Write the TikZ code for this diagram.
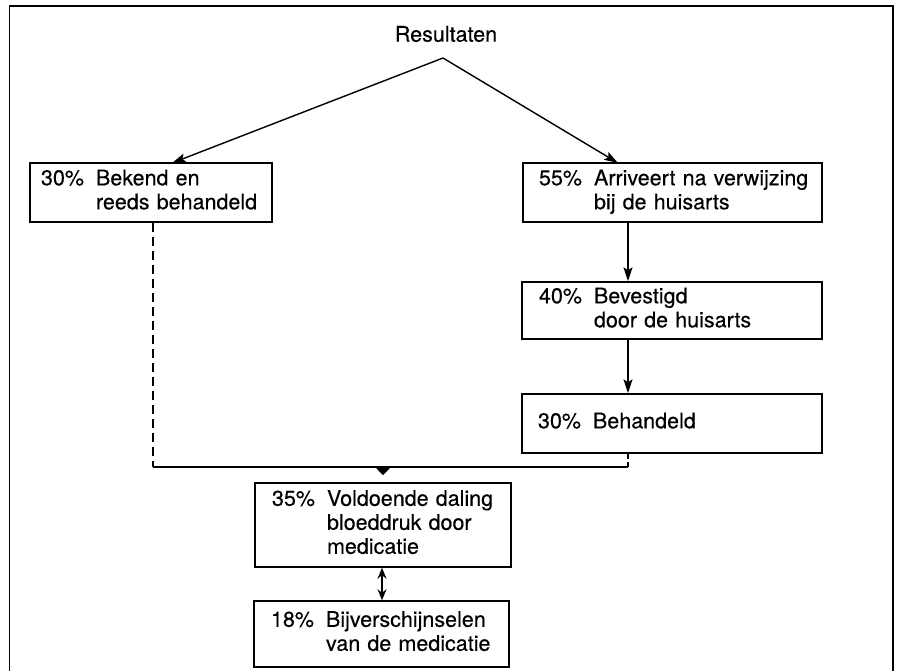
\documentclass[tikz,border=0pt]{standalone}
\usepackage{fontspec}
\setmainfont{TeX Gyre Heros}[FakeBold=0.3]
\usetikzlibrary{arrows.meta,calc}
\newcommand\pctxt[2]{\begin{tabular}{@{}l@{\hspace{12pt}}l@{}}#1 & #2\end{tabular}}
\begin{document}
\begin{tikzpicture}[x=1pt,y=-1pt,
  every node/.style={font=\fontsize{21.5}{24}\selectfont},
  boxnode/.style={draw,line width=1.5pt,align=left,inner ysep=0pt},
  arr/.style={line width=1.4pt,-{Stealth[length=14pt,width=9pt,inset=3pt]}},
  conn/.style={line width=1.4pt}]
\useasboundingbox (0,0) rectangle (897,671);
% frame
\draw[line width=1.8pt] (9.5,671) -- (9.5,6) -- (893,6) -- (893,671);
% title
\node[inner sep=0pt] (res) at (446,34) {Resultaten};
\coordinate (apex) at (443,58);
% boxes
\node[boxnode,minimum width=242pt,minimum height=59pt,text width=220pt,inner xsep=11pt] (b30) at (151,192.5)
  {\pctxt{30\%}{Bekend en\\ & reeds behandeld}};
\node[boxnode,minimum width=299pt,minimum height=59pt,text width=267pt,inner xsep=16pt] (b55) at (672.5,192.5)
  {\pctxt{55\%}{Arriveert na verwijzing\\ & bij de huisarts}};
\node[boxnode,minimum width=300pt,minimum height=57pt,text width=266pt,inner xsep=17pt] (b40) at (672,310.5)
  {\pctxt{40\%}{Bevestigd\\ & door de huisarts}};
\node[boxnode,minimum width=300pt,minimum height=59pt,text width=268pt,inner xsep=16pt] (b30b) at (672,423.5)
  {\pctxt{30\%}{Behandeld}};
\node[boxnode,minimum width=256pt,minimum height=84pt,text width=222pt,inner xsep=17pt] (b35) at (383,525)
  {\pctxt{35\%}{Voldoende daling\\ & bloeddruk door\\ & medicatie}};
\node[boxnode,minimum width=255pt,minimum height=66pt,text width=221pt,inner xsep=17pt] (b18) at (381.5,634)
  {\pctxt{18\%}{Bijverschijnselen\\ & van de medicatie}};
% helper coordinates
\coordinate (tl) at (172,163);
\coordinate (tr) at (618,163);
\coordinate (cx) at (628,0);
\coordinate (jl) at (153,467);
\coordinate (jr) at (628,467);
\coordinate (jm) at (383,467);
% connectors
\draw[arr] (apex) -- (tl);
\draw[arr] (apex) -- (tr);
\draw[arr] (b55.south -| cx) -- (b40.north -| cx);
\draw[arr] (b40.south -| cx) -- (b30b.north -| cx);
\draw[conn,dash pattern=on 9pt off 5pt] (b30.south -| jl) -- (jl);
\draw[conn] (jl) -- (jr);
\draw[conn,dash pattern=on 5pt off 3pt] (jr) -- (b30b.south -| jr);
\draw[line width=1pt,-{Triangle[length=9pt,width=17pt]},shorten >=7pt] (jm) -- (b35.north -| jm);
\draw[line width=1.4pt,{Stealth[length=11pt,width=9pt]}-{Stealth[length=11pt,width=9pt]}] (b35.south -| 382,0) -- (b18.north -| 382,0);
\end{tikzpicture}
\end{document}
